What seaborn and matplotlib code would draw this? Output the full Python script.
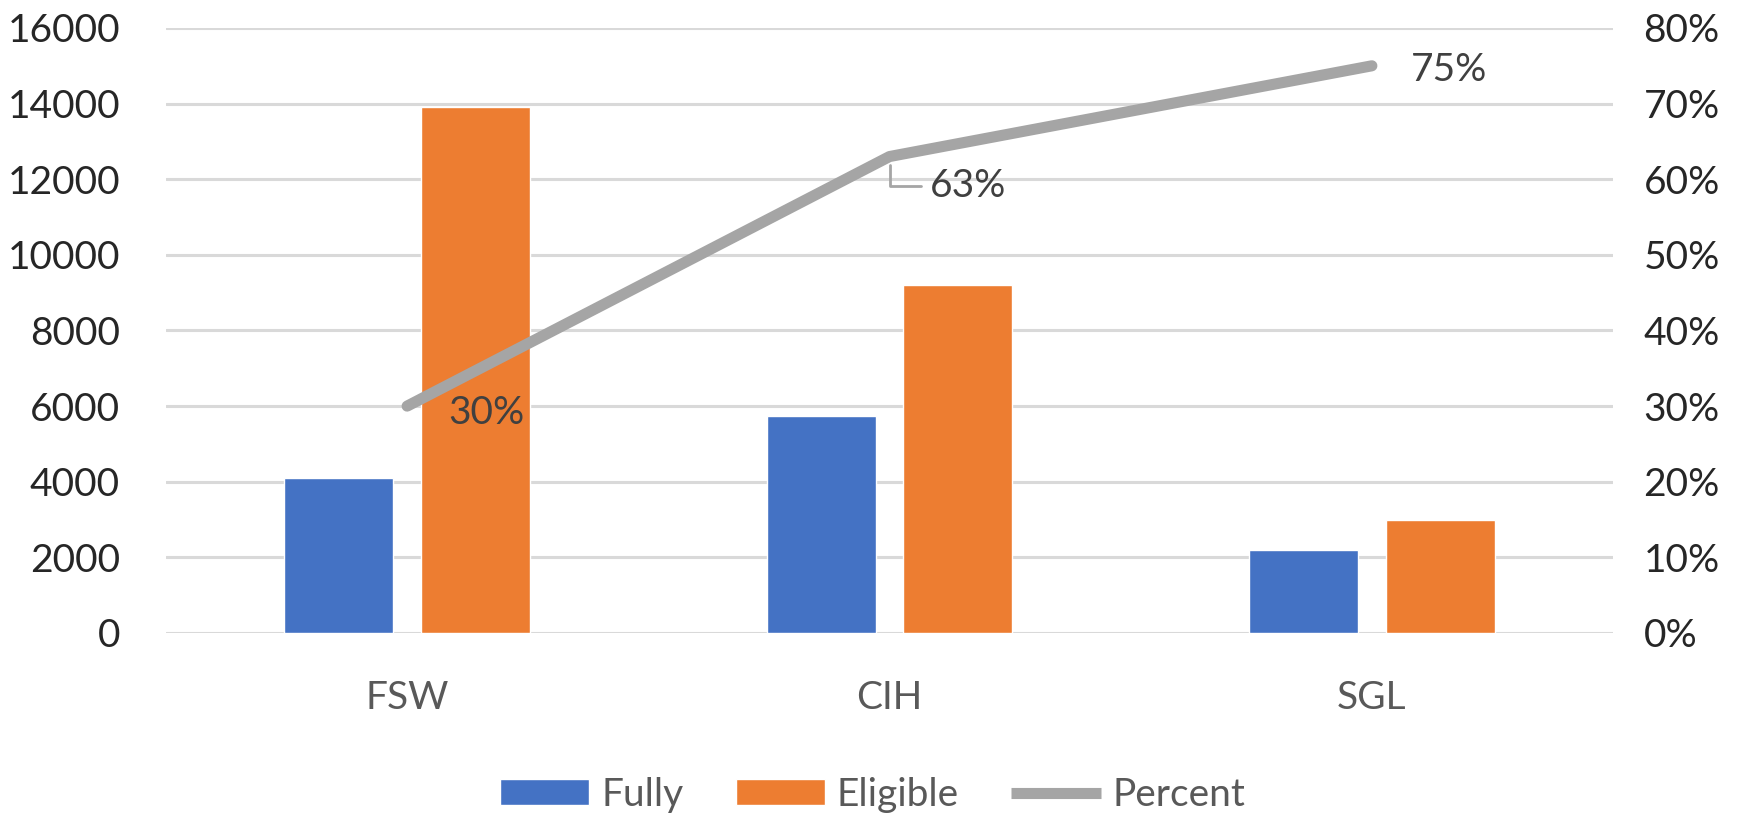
import pandas as pd
import matplotlib.pyplot as plt
import seaborn as sns
from matplotlib.patches import Patch
from matplotlib.lines import Line2D
from matplotlib.ticker import PercentFormatter

# Chart data
categories = ["FSW", "CIH", "SGL"]
fully = [4100, 5750, 2200]
eligible = [13900, 9200, 3000]
percent = [30, 63, 75]
series_names = ["Fully", "Eligible"]

# Colours
bar_colors = ["#4472C4", "#ED7D31"]
line_color = "#A5A5A5"
grid_color = "#D9D9D9"

# Long form table for seaborn
df = pd.DataFrame({
    "category": categories * 2,
    "series": [series_names[0]] * 3 + [series_names[1]] * 3,
    "value": fully + eligible,
})
pct_df = pd.DataFrame({"category": categories, "pct": [p / 100 for p in percent]})

sns.set_style("white")
plt.rcParams["font.family"] = ["Lato", "DejaVu Sans"]
fs = 28

fig = plt.figure(figsize=(17.56, 8.16), dpi=100)
ax = fig.add_axes([0.0945, 0.2243, 0.8241, 0.7414])

sns.barplot(data=df, x="category", y="value", hue="series", order=categories,
            hue_order=series_names, palette=bar_colors, width=0.566, gap=0.2,
            saturation=1, legend=False, ax=ax, zorder=2)

ax.set_ylim(0, 16000)
ax.set_yticks(range(0, 16001, 2000))
ax.set_xlim(-0.5, 2.5)
ax.yaxis.grid(True, color=grid_color, linewidth=2.2, zorder=0)
ax.set_axisbelow(True)
for s in ax.spines.values():
    s.set_visible(False)
ax.set_xlabel("")
ax.set_ylabel("")
ax.tick_params(axis="y", length=0, pad=33, labelsize=fs, labelcolor="#262626")
ax.tick_params(axis="x", length=0, pad=34, labelsize=fs, labelcolor="#595959")

# Percent line on secondary axis
ax2 = ax.twinx()
sns.lineplot(data=pct_df, x="category", y="pct", sort=False, color=line_color,
             linewidth=8, ax=ax2, solid_capstyle="round")
ax2.set_ylim(0, 0.8)
ax2.set_yticks([i / 10 for i in range(9)])
ax2.yaxis.set_major_formatter(PercentFormatter(1.0, decimals=0))
ax2.set_xlim(-0.5, 2.5)
ax2.set_ylabel("")
ax2.grid(False)
for s in ax2.spines.values():
    s.set_visible(False)
ax2.tick_params(axis="y", length=0, pad=22, labelsize=fs, labelcolor="#262626")

# Data labels
offsets = [(30, -5), (29, -21), (28, -3)]
for i, p in enumerate(percent):
    kw = {}
    if i == 1:
        kw["arrowprops"] = dict(arrowstyle="-", color=line_color, lw=2,
                                connectionstyle="angle,angleA=0,angleB=90",
                                shrinkA=4, shrinkB=6)
    ax2.annotate(f"{p}%", xy=(i, p / 100), xytext=offsets[i],
                 textcoords="offset points", ha="left", va="center",
                 fontsize=fs, color="#404040", **kw)

# Legend
handles = [Patch(facecolor=bar_colors[0], label=series_names[0]),
           Patch(facecolor=bar_colors[1], label=series_names[1]),
           Line2D([0], [0], color=line_color, linewidth=8,
                  solid_capstyle="butt", label="Percent")]
leg = fig.legend(handles=handles, loc="center", bbox_to_anchor=(0.497, 0.026),
                 ncol=3, frameon=False, fontsize=fs, handlelength=2.3,
                 handleheight=0.64, handletextpad=0.3, columnspacing=1.35)
for t in leg.get_texts():
    t.set_color("#595959")

fig.savefig("out.png", dpi=100)
